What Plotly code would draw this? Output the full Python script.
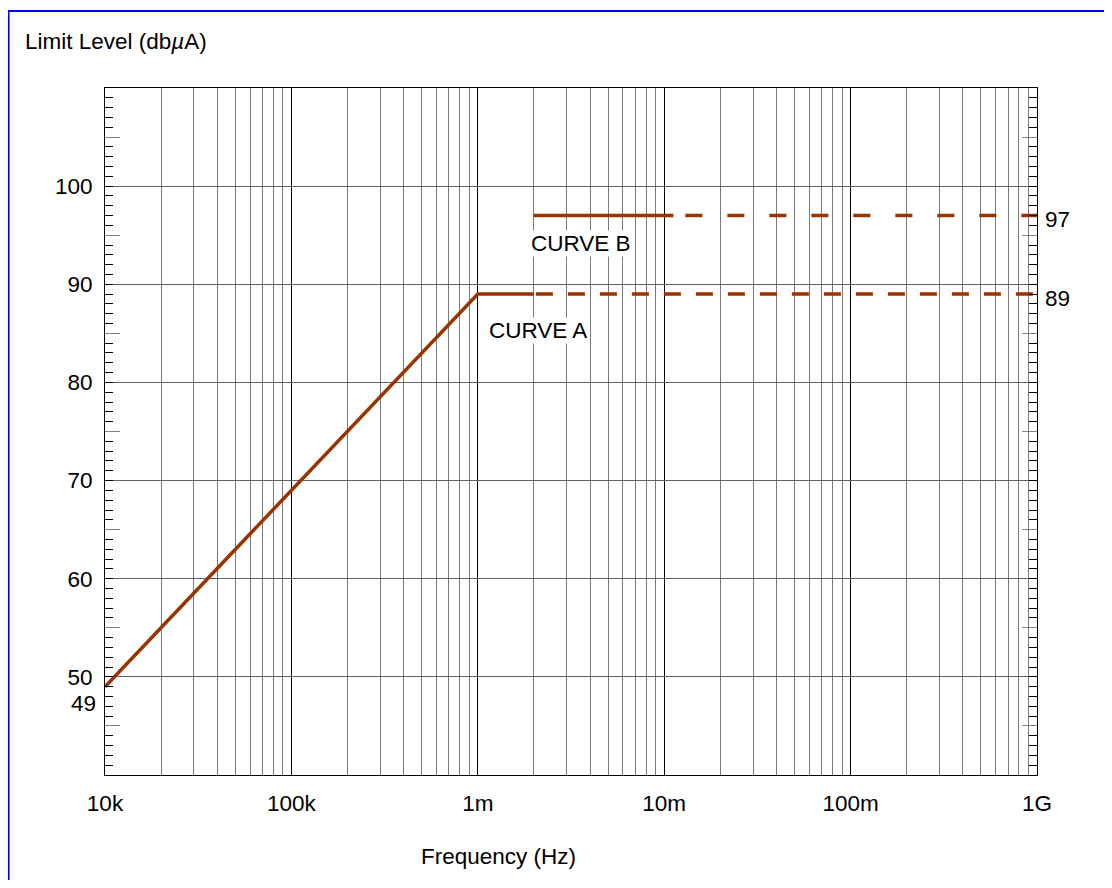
import plotly.graph_objects as go

# ---- data ----
curve_a_solid_f = [1e4, 1e6, 2e6]
curve_a_solid_v = [49, 89, 89]
curve_a_dash_f = [2e6, 1e9]
curve_a_dash_v = [89, 89]
curve_b_solid_f = [2e6, 1.12e7]
curve_b_solid_v = [97, 97]
curve_b_dash_f = [1.12e7, 1e9]
curve_b_dash_v = [97, 97]

x_tick_vals = [1e4, 1e5, 1e6, 1e7, 1e8, 1e9]
x_tick_text = ["10k", "100k", "1m", "10m", "100m", "1G"]
y_tick_vals = [50, 60, 70, 80, 90, 100]
y_tick_text = ["50", "60", "70", "80", "90", "100"]

x_minor = [m * 10 ** d for d in range(4, 9) for m in range(2, 10)]
y_minor = [v for v in range(41, 110) if v % 5 != 0]
y_half = [v for v in range(45, 110, 10)]

LINE = "#993300"
FONT = "Liberation Sans, Arial, sans-serif"
FS = 22.5

fig = go.Figure()
fig.add_trace(go.Scatter(x=curve_a_solid_f, y=curve_a_solid_v, mode="lines",
                         line=dict(color=LINE, width=3.5), showlegend=False))
fig.add_trace(go.Scatter(x=curve_a_dash_f, y=curve_a_dash_v, mode="lines",
                         line=dict(color=LINE, width=3.5, dash="0px,2px,17px,13px"), showlegend=False))
fig.add_trace(go.Scatter(x=curve_b_solid_f, y=curve_b_solid_v, mode="lines",
                         line=dict(color=LINE, width=3.5), showlegend=False))
fig.add_trace(go.Scatter(x=curve_b_dash_f, y=curve_b_dash_v, mode="lines",
                         line=dict(color=LINE, width=3.5, dash="0px,12px,17px,13px"), showlegend=False))
# invisible trace to anchor the secondary tick axis
fig.add_trace(go.Scatter(x=[1e4], y=[40], yaxis="y2", mode="markers",
                         marker=dict(opacity=0), showlegend=False, hoverinfo="skip"))

fig.update_layout(
    width=1104, height=872,
    margin=dict(l=97, r=75, t=80, b=105),
    paper_bgcolor="white", plot_bgcolor="white",
    font=dict(family=FONT, size=FS, color="black"),
    xaxis=dict(
        type="log", range=[4, 9],
        tickmode="array", tickvals=x_tick_vals, ticktext=x_tick_text,
        showgrid=True, gridcolor="black", gridwidth=1,
        ticks="", ticklabelstandoff=8,
        showline=True, linecolor="black", linewidth=1, mirror=True,
        zeroline=False,
        minor=dict(tickmode="array", tickvals=x_minor, showgrid=True,
                   gridcolor="#7a7a7a", gridwidth=1, ticks=""),
    ),
    yaxis=dict(
        range=[40, 110],
        tickmode="array", tickvals=y_tick_vals, ticktext=y_tick_text,
        showgrid=True, gridcolor="#606060", gridwidth=1,
        ticks="inside", ticklen=8, tickcolor="black", tickwidth=1,
        ticklabelstandoff=7,
        showline=True, linecolor="black", linewidth=1, mirror="ticks",
        zeroline=False,
        minor=dict(tickmode="array", tickvals=y_minor, ticks="inside",
                   ticklen=8, tickcolor="black", tickwidth=1, showgrid=False),
    ),
    yaxis2=dict(
        overlaying="y", side="left", range=[40, 110],
        tickmode="array", tickvals=y_half, showticklabels=False,
        ticks="inside", ticklen=15, tickcolor="#808080", tickwidth=1,
        showgrid=False, zeroline=False, showline=False, mirror="ticks",
    ),
    annotations=[
        dict(text="Limit Level (db<i>µ</i>A)", xref="paper", yref="paper",
             x=-0.088, y=1.067, xanchor="left", yanchor="middle",
             showarrow=False, font=dict(size=FS)),
        dict(text="Frequency (Hz)", xref="paper", yref="paper",
             x=0.4217, y=-0.119, xanchor="center", yanchor="middle",
             showarrow=False, font=dict(size=FS)),
        dict(text="49", xref="paper", yref="y", x=0, y=49, xshift=-7, yshift=-17,
             xanchor="right", yanchor="middle", showarrow=False),
        dict(text="97", xref="paper", yref="y", x=1, y=97, xshift=6, yshift=-4,
             xanchor="left", yanchor="middle", showarrow=False),
        dict(text="89", xref="paper", yref="y", x=1, y=89, xshift=6, yshift=-4,
             xanchor="left", yanchor="middle", showarrow=False),
        dict(text="CURVE B", x=6.554, y=94.2, xref="x", yref="y",
             xanchor="center", yanchor="middle", showarrow=False,
             bgcolor="white", borderpad=0),
        dict(text="CURVE A", x=6.323, y=85.3, xref="x", yref="y",
             xanchor="center", yanchor="middle", showarrow=False,
             bgcolor="white", borderpad=0),
    ],
    shapes=[
        dict(type="rect", xref="paper", yref="paper",
             x0=-0.1035, x1=1.0772, y0=-0.2, y1=1.1121,
             line=dict(color="blue", width=2), fillcolor="rgba(0,0,0,0)", layer="above"),
    ],
)

fig.write_html("out.html")
